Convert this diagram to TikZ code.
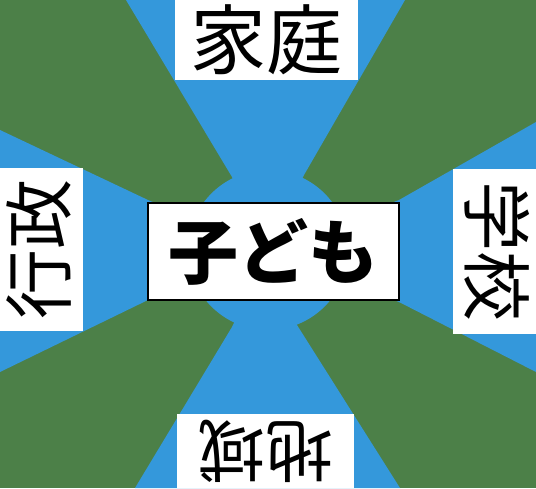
\documentclass[tikz,border=0pt]{standalone}
\usepackage{fontspec}
\usepackage{tikz}
\newfontfamily\jpfont{Noto Sans CJK JP}
\definecolor{boardgreen}{RGB}{76,128,72}
\definecolor{boardblue}{RGB}{52,152,219}

\begin{document}
\begin{tikzpicture}[x=1pt,y=-1pt]
      \tikzset{ray/.style={fill=boardblue},
        label box/.style={fill=white,
          inner sep=0pt,
          font=\jpfont\fontsize{#1}{#1}\selectfont},
        label box/.default=70
      }
      \useasboundingbox (0,0) rectangle (536,488);
      \clip (0,0) rectangle (536,488);
      \fill [boardgreen] (0,0) rectangle (536,488);

      \coordinate (O) at (268,250);
      \fill [ray] (126,0) -- (405,0) -- (304,175) -- (O) -- (232,177) -- cycle;
      \fill [ray] (135,488) -- (400,488) -- (297,325) -- (O) -- (232,327) -- cycle;
      \fill [ray] (0,130) -- (0,372) -- (148,300) -- (O) -- (148,200) -- cycle;
      \fill [ray] (536,122) -- (536,372) -- (399,302) -- (O) -- (399,200) -- cycle;
      \fill [boardblue] (O) circle [radius=80];

      \node [label box=76, minimum width=183, minimum height=80] (home) at (266.5,40) {家庭};
      \node [label box, rotate=-90, minimum width=165, minimum height=88] (school) at (497,251.5) {学校};
      \node [label box=68, rotate=180, minimum width=177, minimum height=74] (local) at (265.5,451) {地域};
      \node [label box, rotate=90, minimum width=163, minimum height=88] (gov) at (39,249.5) {行政};

      \node [draw=black, line width=2pt, fill=white, inner sep=0pt,
        minimum width=251, minimum height=97,
        font=\jpfont\bfseries\fontsize{70}{70}\selectfont] (child) at (273.5,251.5) {子ども};
    \end{tikzpicture}
\end{document}
